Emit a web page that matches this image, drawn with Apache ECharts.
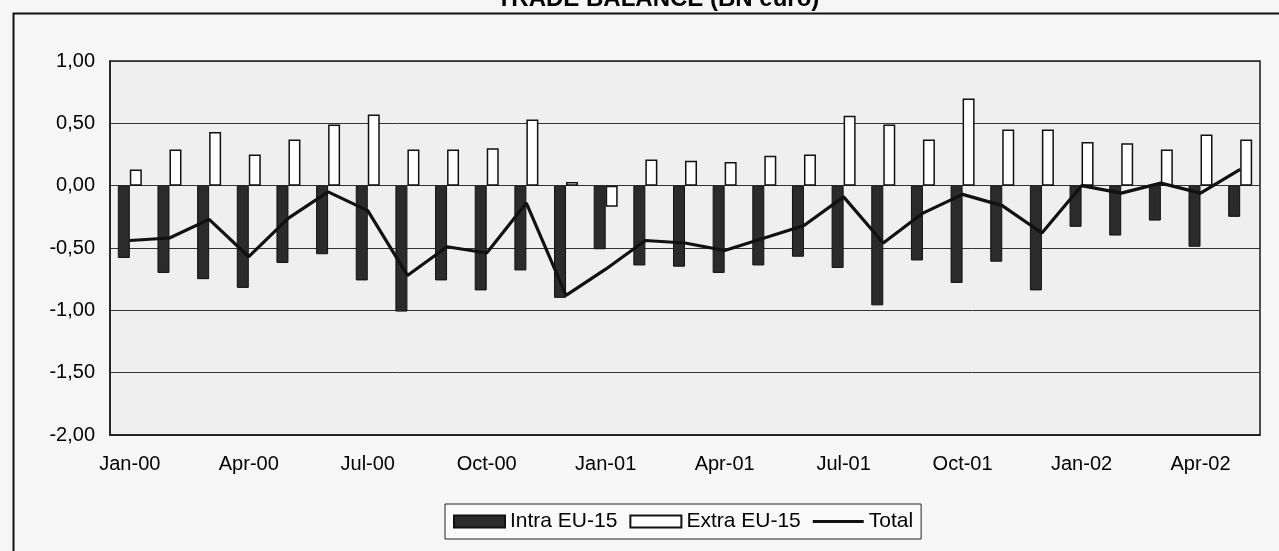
<!DOCTYPE html>
<html>
<head>
<meta charset="utf-8">
<script src="https://cdn.jsdelivr.net/npm/echarts@6/dist/echarts.min.js"></script>
<style>
html,body{margin:0;padding:0;background:#f6f6f6;}
#c{width:1279px;height:551px;}
</style>
</head>
<body>
<div id="c"></div>
<script>
const months = ['Jan-00','Feb-00','Mar-00','Apr-00','May-00','Jun-00','Jul-00','Aug-00','Sep-00','Oct-00','Nov-00','Dec-00',
  'Jan-01','Feb-01','Mar-01','Apr-01','May-01','Jun-01','Jul-01','Aug-01','Sep-01','Oct-01','Nov-01','Dec-01',
  'Jan-02','Feb-02','Mar-02','Apr-02','May-02'];
const intraEU15 = [-0.58,-0.70,-0.75,-0.82,-0.62,-0.55,-0.76,-1.01,-0.76,-0.84,-0.68,-0.90,
  -0.51,-0.64,-0.65,-0.70,-0.64,-0.57,-0.66,-0.96,-0.60,-0.78,-0.61,-0.84,
  -0.33,-0.40,-0.28,-0.49,-0.25];
const extraEU15 = [0.13,0.29,0.43,0.25,0.37,0.49,0.57,0.29,0.29,0.30,0.53,0.03,
  -0.17,0.21,0.20,0.19,0.24,0.25,0.56,0.49,0.37,0.70,0.45,0.45,
  0.35,0.34,0.29,0.41,0.37];
const total = [-0.44,-0.42,-0.27,-0.57,-0.26,-0.05,-0.20,-0.72,-0.49,-0.54,-0.14,-0.88,
  -0.67,-0.44,-0.46,-0.52,-0.42,-0.32,-0.09,-0.46,-0.22,-0.07,-0.16,-0.38,
  0.00,-0.06,0.02,-0.06,0.13];
const titleText = 'TRADE BALANCE (BN euro)';

const chart = echarts.init(document.getElementById('c'));
const font = 'Liberation Sans, Arial, sans-serif';
chart.setOption({
  backgroundColor: '#f6f6f6',
  animation: false,
  textStyle: { fontFamily: font },
  graphic: [
    { type: 'rect', left: 11, top: 11, shape: { width: 1300, height: 600 },
      style: { fill: 'none', stroke: '#111', lineWidth: 2 }, z: 100 },
    { type: 'text', x: 658, y: 11, z: 100,
      style: { text: titleText, font: 'bold 24px ' + font, fill: '#000', textAlign: 'center', textVerticalAlign: 'bottom' } }
  ],
  grid: { left: 110, right: 19, top: 61, bottom: 116, show: true, backgroundColor: '#efefef', borderColor: '#1a1a1a', borderWidth: 1.5 },
  legend: {
    left: 445, top: 504,
    backgroundColor: '#fafafa', borderColor: '#222', borderWidth: 1,
    padding: [7, 8], itemGap: 12, itemWidth: 51, itemHeight: 12,
    textStyle: { fontSize: 21, color: '#000', fontFamily: font },
    data: [
      { name: 'Intra EU-15', icon: 'rect' },
      { name: 'Extra EU-15', icon: 'rect' },
      { name: 'Total', icon: 'path://M0,0 L17,0 L17,1 L0,1 Z' }
    ]
  },
  xAxis: {
    type: 'category', data: months,
    axisLine: { onZero: false, lineStyle: { color: '#1a1a1a', width: 1.5 } },
    axisTick: { show: false },
    axisLabel: { interval: 2, fontSize: 20, color: '#000', margin: 19 },
    splitLine: { show: false }
  },
  yAxis: {
    type: 'value', min: -2, max: 1, interval: 0.5,
    axisLine: { show: true, lineStyle: { color: '#1a1a1a', width: 1.5 } },
    axisTick: { show: false },
    axisLabel: { fontSize: 20, color: '#000', margin: 15, formatter: v => v.toFixed(2).replace('.', ',') },
    splitLine: { lineStyle: { color: '#333', width: 1 } }
  },
  series: [
    { name: 'Intra EU-15', type: 'bar', data: intraEU15, barWidth: 12, barGap: '0%',
      itemStyle: { color: '#2b2b2b', borderColor: '#111', borderWidth: 1 } },
    { name: 'Extra EU-15', type: 'bar', data: extraEU15, barWidth: 12, barGap: '0%',
      itemStyle: { color: '#ffffff', borderColor: '#111', borderWidth: 1.5 } },
    { name: 'Total', type: 'line', data: total, showSymbol: false, symbol: 'none',
      lineStyle: { color: '#111', width: 3.2 }, itemStyle: { color: '#111' }, z: 5 }
  ]
});
</script>
</body>
</html>
